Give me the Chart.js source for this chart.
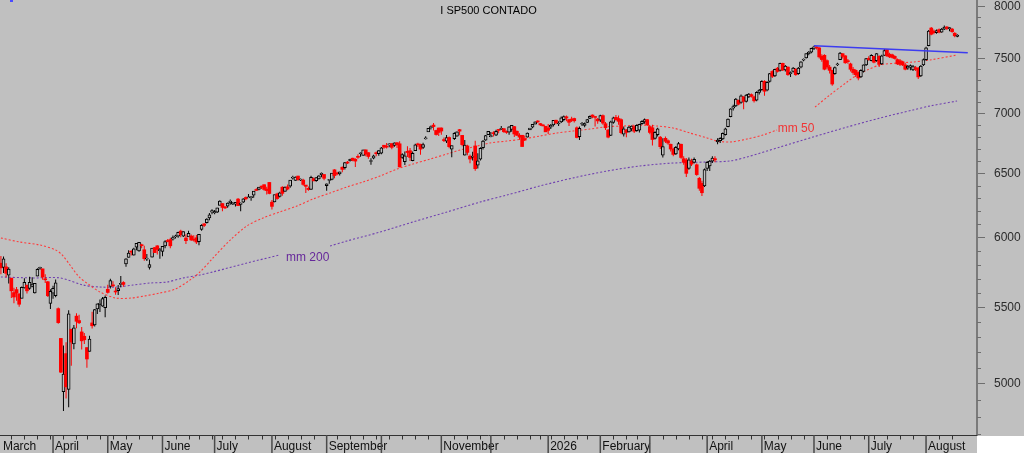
<!DOCTYPE html>
<html><head><meta charset="utf-8">
<style>html,body{margin:0;padding:0;background:#c0c0c0;overflow:hidden}</style>
<script src="https://cdn.jsdelivr.net/npm/chart.js@4.4.1/dist/chart.umd.min.js"></script>
</head><body>
<canvas id="c" width="1024" height="453"></canvas>
<script>
const TITLE = 'I SP500 CONTADO';
// trading-day index of first session of each month, and its label
const monthStart = [0,20,41,62,82,104,125,146,169,188,210,230,249,271,292,312,333,355];
const monthLabel = ['March','April','May','June','July','August','September','','November','','2026','February','','April','May','June','July','August'];
const weekStart = [4,9,14,19,24,29,33,38,43,48,53,58,67,72,76,81,85,90,95,100,105,110,115,120,129,134,139,144,149,154,159,164,174,179,184,193,198,203,207,211,216,221,225,235,240,244,254,259,264,269,273,278,283,288,293,298,303,308,317,322,326,331,335,340,345,350,360,365];
const yTicks = [5000,5500,6000,6500,7000,7500,8000];
const yMinor = [4700,4800,4900,5100,5200,5300,5400,5600,5700,5800,5900,6100,6200,6300,6400,6600,6700,6800,6900,7100,7200,7300,7400,7600,7700,7800,7900];

const open = [
 5812,5781,5785,5726,5705,5603,5624,5594,5563,5635,5655,5632,5646,5600,5718,5775,5771,5695,5679,5527,
 5598,5581,5492,5292,4953,5193,4966,5353,5255,5441,5411,5335,5306,5232,5207,5395,5381,5490,5520,5509,5499,
 5626,5646,5655,5609,5616,5660,5674,5807,5854,5896,5870,5929,5902,5944,5910,5841,5782,5855,5926,5939,5903,
 5897,5938,5978,5985,5988,6005,6010,6049,6010,5997,6005,6012,5986,5999,5970,6061,6104,6112,6150,6193,
 6187,6193,6246,6260,6234,6240,6266,6255,6255,6295,6254,6270,6308,6304,6306,6326,6369,6371,6397,6409,6374,6427,
 6271,6272,6336,6316,6389,6356,6392,6397,6461,6443,6478,6445,6446,6406,6380,6371,6457,6441,6456,6489,6491,
 6401,6444,6451,6529,6503,6497,6550,6546,6592,6603,6624,6615,6635,6661,6647,6693,6670,6597,6625,6662,6661,
 6665,6732,6723,6735,6746,6730,6753,6744,6630,6595,6681,6686,6603,6686,6738,6740,6713,6785,6844,6881,6903,6857,6878,
 6878,6778,6766,6797,6699,6787,6808,6864,6815,6650,6726,6641,6630,6726,6567,6616,6711,6775,6822,
 6805,6830,6816,6866,6866,6872,6841,6842,6866,6890,6850,6816,6816,6786,6800,6862,6884,6911,6935,6916,6903,6893,
 6879,6885,6905,6945,6912,6930,6950,6975,6950,6955,6960,6880,6805,6910,6900,6925,6960,6990,6975,6955,
 6945,6985,6915,6860,6815,6925,6970,6960,6950,6825,6860,6845,6870,6890,6855,6860,6915,6930,6950,
 6890,6880,6790,6820,6800,6650,6790,6770,6740,6700,6660,6700,6740,6620,6610,6540,6600,6590,6570,6460,6420,6400,
 6540,6560,6600,6620,6760,6770,6785,6820,6890,6975,7050,7070,7120,7100,7150,7110,7150,7170,7150,7120,7190,
 7215,7290,7210,7290,7380,7340,7410,7390,7455,7395,7420,7360,7380,7400,7360,7420,7485,7505,7545,7560,
 7595,7605,7600,7520,7530,7480,7420,7390,7360,7440,7490,7545,7525,7480,7450,7400,7390,7370,7330,7380,7440,
 7500,7480,7520,7480,7520,7450,7530,7585,7540,7535,7520,7490,7480,7470,7440,7410,7420,7395,7415,7410,7340,7440,
 7490,7620,7790,7760,7745,7775,7750,7780,7800,7785,7780,7740,7710];
const high = [
 5865,5860,5812,5783,5706,5636,5642,5597,5645,5703,5657,5715,5711,5670,5775,5786,5772,5732,5685,5626,
 5651,5695,5500,5292,5246,5267,5481,5353,5381,5460,5450,5368,5328,5232,5309,5470,5490,5528,5554,5572,5582,
 5658,5700,5683,5641,5656,5720,5683,5847,5907,5907,5925,5959,5968,5954,5939,5878,5838,5922,5930,5943,5922,
 5937,5981,5990,5999,6016,6022,6044,6059,6046,6026,6051,6024,6018,6019,6026,6101,6108,6146,6187,6215,
 6210,6228,6285,6263,6242,6269,6291,6272,6272,6303,6268,6301,6316,6336,6317,6359,6381,6389,6401,6410,6393,6428,
 6288,6329,6344,6352,6396,6395,6410,6446,6481,6474,6481,6459,6457,6407,6394,6481,6467,6468,6485,6508,6491,
 6418,6451,6502,6533,6513,6513,6555,6592,6600,6619,6627,6623,6657,6671,6694,6697,6674,6624,6653,6680,6689,
 6718,6733,6750,6749,6746,6755,6756,6765,6664,6680,6723,6709,6679,6745,6752,6744,6752,6807,6877,6899,6920,6863,6880,
 6882,6796,6818,6805,6730,6841,6847,6870,6815,6775,6736,6654,6677,6770,6665,6715,6776,6818,6850,
 6843,6851,6862,6867,6895,6877,6856,6894,6903,6896,6856,6833,6818,6813,6840,6879,6910,6933,6945,6921,6910,6893,
 6912,6912,6946,6950,6935,6978,6986,6986,6955,6975,6967,6890,6890,6930,6925,6955,6985,6995,6978,6965,
 6992,6995,6930,6870,6940,6975,6990,6985,6960,6890,6870,6895,6900,6900,6910,6915,6945,6960,6955,
 6900,6905,6850,6880,6810,6790,6805,6780,6745,6710,6725,6760,6745,6640,6625,6630,6620,6630,6580,6470,6440,6540,
 6600,6610,6640,6640,6790,6800,6840,6880,6960,7050,7080,7140,7125,7170,7155,7175,7185,7180,7160,7200,7220,
 7300,7300,7290,7365,7390,7405,7420,7460,7460,7440,7425,7380,7420,7410,7420,7475,7500,7550,7570,7600,
 7620,7615,7605,7540,7540,7490,7440,7395,7425,7460,7560,7550,7530,7495,7460,7420,7400,7380,7400,7445,7505,
 7520,7540,7525,7550,7530,7535,7590,7590,7555,7545,7530,7500,7495,7480,7460,7440,7445,7440,7430,7420,7440,7500,
 7610,7770,7800,7775,7775,7785,7790,7815,7810,7800,7790,7750,7730];
const low = [
 5733,5742,5711,5667,5565,5529,5546,5505,5563,5631,5597,5622,5641,5597,5718,5765,5694,5670,5572,5489,
 5560,5571,5390,5069,4835,4910,4857,5115,5221,5360,5387,5220,5255,5102,5207,5357,5371,5456,5469,5505,5434,
 5597,5631,5642,5587,5586,5641,5644,5786,5853,5868,5868,5907,5895,5921,5830,5827,5767,5854,5886,5875,5844,
 5862,5921,5966,5921,5978,5994,5999,6002,6004,5953,6005,5974,5971,5952,5944,6051,6080,6107,6132,6178,
 6177,6186,6246,6201,6217,6227,6251,6249,6237,6241,6201,6265,6286,6303,6282,6306,6360,6365,6375,6361,6331,6333,
 6213,6271,6289,6307,6322,6355,6365,6385,6451,6441,6441,6439,6401,6343,6361,6369,6438,6433,6450,6469,6445,
 6361,6416,6445,6460,6484,6482,6510,6532,6577,6597,6598,6552,6620,6635,6647,6641,6620,6570,6615,6641,6645,
 6656,6702,6705,6715,6699,6719,6708,6550,6620,6569,6633,6600,6599,6684,6718,6652,6701,6781,6844,6866,6856,6815,6809,
 6821,6758,6751,6707,6631,6775,6804,6817,6724,6646,6648,6583,6605,6522,6539,6604,6697,6770,6818,
 6800,6806,6809,6834,6860,6837,6828,6821,6846,6801,6810,6777,6720,6767,6796,6860,6876,6910,6921,6895,6893,6843,
 6826,6870,6890,6910,6896,6920,6935,6935,6896,6930,6925,6790,6775,6895,6885,6920,6955,6962,6890,6915,
 6930,6905,6860,6790,6810,6915,6940,6905,6825,6805,6800,6840,6850,6835,6845,6840,6905,6915,6895,
 6825,6730,6780,6805,6700,6630,6750,6735,6680,6640,6650,6690,6620,6570,6470,6530,6560,6580,6480,6360,6320,6390,
 6520,6520,6585,6590,6740,6750,6775,6815,6885,6970,7030,7060,7075,7090,7040,7100,7140,7145,7100,7110,7170,
 7205,7160,7200,7280,7320,7330,7370,7380,7385,7380,7340,7330,7370,7340,7350,7410,7475,7500,7530,7550,
 7580,7585,7500,7470,7390,7400,7360,7250,7350,7430,7485,7500,7450,7450,7380,7350,7330,7300,7320,7370,7430,
 7480,7475,7455,7470,7420,7440,7525,7515,7505,7500,7490,7440,7430,7430,7390,7395,7390,7385,7385,7310,7330,7430,
 7480,7615,7720,7730,7735,7740,7745,7770,7770,7760,7745,7700,7700];
const close = [
 5778,5843,5739,5770,5615,5572,5599,5522,5639,5675,5615,5675,5663,5668,5768,5777,5712,5693,5581,5612,
 5633,5671,5397,5074,5062,4982,5457,5268,5363,5406,5396,5276,5283,5158,5288,5376,5485,5525,5529,5561,5569,
 5604,5687,5650,5607,5631,5664,5660,5844,5886,5892,5917,5958,5964,5940,5845,5842,5802,5922,5889,5912,5911,
 5936,5970,5971,5939,6000,6006,6039,6022,6045,5977,6033,5983,5981,5967,6025,6092,6092,6141,6173,6205,
 6198,6227,6279,6230,6226,6263,6280,6259,6269,6244,6264,6297,6297,6306,6309,6359,6363,6389,6390,6371,6362,6339,
 6238,6330,6299,6345,6340,6389,6374,6446,6466,6469,6450,6449,6411,6396,6370,6467,6439,6466,6481,6502,6460,
 6416,6448,6502,6482,6495,6512,6532,6587,6584,6615,6606,6600,6631,6664,6693,6657,6638,6605,6644,6661,6688,
 6711,6715,6716,6740,6714,6753,6735,6552,6654,6644,6671,6630,6664,6735,6735,6699,6738,6792,6875,6891,6890,6822,6840,
 6852,6771,6796,6720,6728,6832,6846,6851,6737,6734,6672,6617,6642,6538,6603,6705,6766,6813,6849,
 6813,6829,6850,6857,6870,6846,6840,6887,6901,6827,6816,6800,6721,6775,6835,6878,6910,6932,6930,6905,6896,6845,
 6858,6902,6945,6921,6921,6966,6977,6964,6927,6944,6940,6797,6876,6913,6916,6950,6979,6978,6969,6939,
 6985,6920,6880,6800,6932,6965,6950,6935,6838,6870,6840,6885,6895,6850,6900,6910,6935,6950,6905,
 6840,6780,6840,6870,6720,6720,6765,6750,6700,6655,6715,6745,6630,6590,6500,6610,6575,6615,6490,6380,6345,6530,
 6590,6600,6625,6610,6775,6790,6833,6870,6955,7045,7065,7130,7085,7160,7110,7165,7175,7155,7115,7190,7210,
 7290,7200,7280,7360,7335,7400,7380,7455,7393,7430,7350,7370,7410,7350,7410,7470,7492,7545,7560,7595,
 7610,7600,7515,7490,7400,7420,7390,7265,7415,7450,7550,7520,7460,7470,7400,7370,7350,7320,7390,7440,7500,
 7490,7530,7465,7545,7445,7525,7575,7525,7515,7510,7500,7450,7445,7440,7400,7430,7435,7425,7400,7330,7430,7490,
 7600,7760,7730,7745,7765,7750,7780,7800,7785,7790,7755,7715,7722];

// moving averages (null = hidden under label)
const ma50Idx = [0,7,15,21,23.5,26.5,30,34,38,44,50,55,61,67,72.6,76.4,81.4,88,94.4,100.6,107,113.6,119.8,126.3,132.8,139,145.5,152,158.1,164.7,171.2,176.2,181.2,187.7,194.2,200.3,206.9,213.4,219.5,226,232.6,238.7,245.3,251.8,257.9,264.4,271,274.8,279.8,286.3,292.4,297.8,305,312.4,318.1,324.7,328.5,332.4,337.3,343.9,350,356.5,366.9];
const ma50Val = [5997,5968,5945,5908,5872,5799,5713,5656,5607,5565,5565,5579,5600,5628,5692,5749,5850,5982,6088,6149,6195,6241,6296,6343,6391,6431,6479,6535,6576,6617,6659,6692,6717,6751,6767,6784,6810,6835,6852,6869,6889,6895,6903,6895,6878,6835,6793,6767,6759,6784,6818,6861,null,7060,7167,7284,7347,7393,7439,7458,7467,7486,7533];
const ma200Idx = [0,12.3,22.7,31.5,38,44.6,50.7,57.2,63.7,69.9,76.4,81.4,94.4,107,116,126.3,132.8,145.5,158.1,171.2,183.9,194.2,206.9,219.5,232.6,245.2,257.9,271,279.8,286.3,299,311.6,324.7,337.3,350,356.5,366.9];
const ma200Val = [5713,5706,5706,5656,5642,5642,5656,5670,5677,5706,5727,5749,5813,5872,null,5938,5975,6042,6118,6195,6272,6327,6399,6463,6519,6560,6584,6593,6601,6634,6717,6801,6886,6964,7034,7069,7113];
const trendIdx = [312,371];
const trendVal = [7620,7555];
const maLabels = [
  {text:'mm 50', idx:298.1, val:6874, color:'#f03434'},
  {text:'mm 200', idx:109.4, val:5853, color:'#66289a'}
];

const X_MIN = -0.35, X_MAX = 374.55, Y_MIN = 4692, Y_MAX = 8067;
const FONT = 'Arial, "Liberation Sans", sans-serif';
Chart.defaults.font.family = FONT;

const up = i => i !== undefined && close[i] >= open[i];
const idx = close.map((_, i) => i);
const wickData = idx.map(i => ({x: i, y: [low[i], high[i]]}));
const bodyData = idx.map(i => ({x: i, y: [open[i], close[i]]}));
const ma50Data = ma50Idx.map((x, k) => ({x, y: ma50Val[k]}));
const ma200Data = ma200Idx.map((x, k) => ({x, y: ma200Val[k]}));
const trendData = trendIdx.map((x, k) => ({x, y: trendVal[k]}));

const deco = {
  id: 'deco',
  beforeDraw(chart) {
    const {ctx, width, height, chartArea} = chart;
    ctx.save();
    ctx.fillStyle = '#c0c0c0'; ctx.fillRect(0, 0, width, height);
    ctx.fillStyle = '#ffffff';
    ctx.fillRect(chartArea.right, chartArea.bottom + 1, width - chartArea.right, height - chartArea.bottom);
    ctx.restore();
  },
  afterDraw(chart) {
    const {ctx, chartArea} = chart;
    const xs = chart.scales.x, ys = chart.scales.y;
    ctx.save();
    ctx.strokeStyle = '#333'; ctx.lineWidth = 1;
    ctx.beginPath();
    ctx.moveTo(chartArea.left, chartArea.bottom + 0.5); ctx.lineTo(chartArea.right, chartArea.bottom + 0.5);
    weekStart.forEach(i => {
      const px = Math.round(xs.getPixelForValue(i)) + 0.5;
      ctx.moveTo(px, chartArea.bottom); ctx.lineTo(px, chartArea.bottom + 4.5);
    });
    ctx.stroke();
    ctx.strokeStyle = '#4a4a4a'; ctx.lineWidth = 1.5;
    ctx.beginPath();
    monthStart.forEach((i, k) => {
      if (k === 0) return;
      const px = xs.getPixelForValue(i);
      ctx.moveTo(px, chartArea.bottom); ctx.lineTo(px, chart.height);
    });
    ctx.stroke();
    ctx.strokeStyle = '#6e6e6e'; ctx.lineWidth = 1;
    ctx.beginPath();
    yMinor.forEach(v => {
      const py = Math.round(ys.getPixelForValue(v)) + 0.5;
      if (py < chartArea.top || py > chartArea.bottom) return;
      ctx.moveTo(chartArea.right, py); ctx.lineTo(chartArea.right + 4, py);
    });
    ctx.stroke();
    ctx.fillStyle = '#000'; ctx.font = '11px ' + FONT;
    ctx.textAlign = 'center'; ctx.textBaseline = 'middle';
    ctx.fillText(TITLE, (chartArea.left + chartArea.right) / 2, 11);
    ctx.font = '12px ' + FONT; ctx.textAlign = 'left';
    maLabels.forEach(l => {
      ctx.fillStyle = l.color;
      ctx.fillText(l.text, xs.getPixelForValue(l.idx), ys.getPixelForValue(l.val));
    });
    ctx.fillStyle = '#4a4aff'; ctx.fillRect(10, 0, 3, 2);
    ctx.restore();
  }
};

new Chart(document.getElementById('c'), {
  type: 'bar',
  data: { datasets: [
    { type: 'line', data: trendData, borderColor: '#3c3cf0', borderWidth: 1.5, pointRadius: 0, order: 0 },
    { type: 'bar', data: bodyData, barThickness: 3, grouped: false, minBarLength: 1, borderSkipped: false,
      backgroundColor: c => up(c.dataIndex) ? '#c0c0c0' : '#ff0000',
      borderColor: c => up(c.dataIndex) ? '#000000' : '#ff0000',
      borderWidth: c => up(c.dataIndex) ? 1 : 0, order: 1 },
    { type: 'bar', data: wickData, barThickness: 1, grouped: false, borderWidth: 0, inflateAmount: 0,
      backgroundColor: c => up(c.dataIndex) ? '#000000' : '#ff0000', order: 2 },
    { type: 'line', data: ma50Data, borderColor: '#ff3a3a', borderWidth: 1.1, borderDash: [2, 2],
      pointRadius: 0, tension: 0.3, spanGaps: false, order: 3 },
    { type: 'line', data: ma200Data, borderColor: '#7040b0', borderWidth: 1.1, borderDash: [2, 2],
      pointRadius: 0, tension: 0.3, spanGaps: false, order: 4 }
  ]},
  options: {
    responsive: false, animation: false, events: [],
    layout: { padding: 0 },
    plugins: { legend: { display: false }, tooltip: { enabled: false }, title: { display: false } },
    scales: {
      x: { type: 'linear', min: X_MIN, max: X_MAX, offset: false, bounds: 'data',
        grid: { display: false, drawTicks: false, tickLength: 0, offset: false }, border: { display: false },
        afterBuildTicks: s => { s.ticks = monthStart.map(v => ({ value: v })); },
        afterFit: s => { s.height = 18; s.paddingLeft = 0; s.paddingRight = 0; },
        ticks: { autoSkip: false, maxRotation: 0, minRotation: 0, align: 'start', labelOffset: 2,
          padding: 4, color: '#111', font: { size: 12 }, callback: (v, i) => monthLabel[i] } },
      y: { type: 'logarithmic', position: 'right', min: Y_MIN, max: Y_MAX, bounds: 'data',
        grid: { display: true, drawOnChartArea: false, drawTicks: true, tickLength: 8, color: '#6e6e6e' },
        border: { display: true, color: '#7a7a7a', width: 2 },
        afterBuildTicks: s => { s.ticks = yTicks.map(v => ({ value: v })); },
        afterFit: s => { s.width = 47; s.paddingTop = 0; s.paddingBottom = 0; },
        ticks: { padding: 9, color: '#2b2b2b', font: { size: 12 }, callback: v => String(v) } }
    }
  },
  plugins: [deco]
});
</script>
</body></html>
